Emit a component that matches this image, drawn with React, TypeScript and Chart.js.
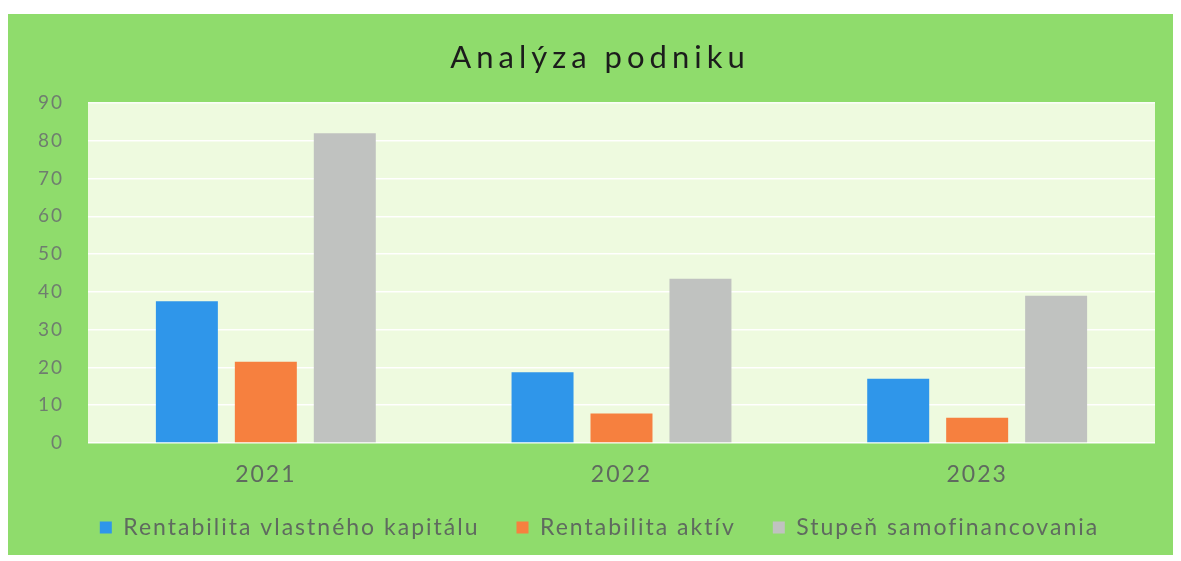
import React, { useEffect, useRef } from "react";
import { Chart, registerables } from "chart.js";

Chart.register(...registerables);

const chartTitle = "Analýza podniku";
const categories = ["2021", "2022", "2023"];
const seriesNames = [
  "Rentabilita vlastného kapitálu",
  "Rentabilita aktív",
  "Stupeň samofinancovania",
];
const roeValues = [37.5, 18.7, 17];
const roaValues = [21.5, 7.8, 6.7];
const selfFinValues = [82, 43.5, 39];
const seriesColors = ["#2f96ea", "#f6803f", "#c0c2c0"];
const yTicks = { min: 0, max: 90, step: 10 };

const FONT = "Lato, 'Open Sans', sans-serif";
const SPACING = "2px";
const LEGEND_BOX_HEIGHT = 40;
const LEGEND_DRAW_SHIFT = -10;
const LEGEND_X_SHIFT = 8;

const spacingPlugin = {
  id: "spacingPlugin",
  beforeUpdate(chart: any) {
    chart.ctx.letterSpacing = SPACING;
  },
  beforeLayout(chart: any) {
    chart.ctx.letterSpacing = SPACING;
    const lg = chart.legend;
    if (lg && !lg.__patched) {
      lg.__patched = true;
      const origFit = lg.fit.bind(lg);
      lg.fit = function () {
        origFit();
        this.__fullHeight = this.height;
        this.height = LEGEND_BOX_HEIGHT;
      };
      const origDraw = lg.draw.bind(lg);
      lg.draw = function () {
        const t = this.top;
        const b = this.bottom;
        const l = this.left;
        const r = this.right;
        this.top = t + LEGEND_DRAW_SHIFT;
        this.bottom = this.top + (this.__fullHeight || b - t);
        this.left = l + LEGEND_X_SHIFT;
        this.right = r + LEGEND_X_SHIFT;
        origDraw();
        this.top = t;
        this.bottom = b;
        this.left = l;
        this.right = r;
      };
    }
  },
  beforeDraw(chart: any) {
    const { ctx, chartArea, width, height } = chart;
    ctx.letterSpacing = SPACING;
    ctx.save();
    ctx.fillStyle = "#8fdc6c";
    ctx.fillRect(0, 0, width, height);
    ctx.fillStyle = "#eefadf";
    ctx.fillRect(
      chartArea.left,
      chartArea.top,
      chartArea.right - chartArea.left,
      chartArea.bottom - chartArea.top
    );
    ctx.restore();
  },
  afterDraw(chart: any) {
    const { ctx } = chart;
    ctx.save();
    ctx.letterSpacing = "5px";
    ctx.font = `normal 31px ${FONT}`;
    ctx.fillStyle = "#1c1c1c";
    ctx.textAlign = "center";
    ctx.textBaseline = "middle";
    ctx.fillText(chartTitle, 592, 44);
    ctx.restore();
  },
};

export default function App() {
  const ref = useRef<HTMLCanvasElement | null>(null);

  useEffect(() => {
    if (!ref.current) return;
    const chart = new Chart(ref.current, {
      type: "bar",
      data: {
        labels: categories,
        datasets: [
          { label: seriesNames[0], data: roeValues, backgroundColor: seriesColors[0] },
          { label: seriesNames[1], data: roaValues, backgroundColor: seriesColors[1] },
          { label: seriesNames[2], data: selfFinValues, backgroundColor: seriesColors[2] },
        ],
      },
      options: {
        responsive: false,
        animation: false,
        datasets: {
          bar: { categoryPercentage: 0.666, barPercentage: 0.785 },
        },
        layout: { padding: { left: 20, right: 26, top: 89, bottom: 26 } },
        plugins: {
          tooltip: { enabled: false },
          title: { display: false },
          legend: {
            position: "bottom",
            labels: {
              color: "#5f6a5f",
              font: { family: FONT, size: 23 },
              boxWidth: 12,
              boxHeight: 12,
              padding: 37,
            },
          },
        },
        scales: {
          x: {
            grid: { display: false, drawTicks: false },
            border: { display: false },
            ticks: {
              color: "#5f6a5f",
              font: { family: FONT, size: 23 },
              padding: 18,
            },
            afterFit(scale: any) {
              scale.height = 46;
            },
          },
          y: {
            min: yTicks.min,
            max: yTicks.max,
            grid: { color: "rgba(255,255,255,0.95)", lineWidth: 1.5, drawTicks: false },
            border: { display: false },
            ticks: {
              stepSize: yTicks.step,
              color: "#6f7d6f",
              font: { family: FONT, size: 19 },
              padding: 24,
            },
            afterFit(scale: any) {
              scale.width = 60;
            },
          },
        },
      },
      plugins: [spacingPlugin],
    });
    return () => chart.destroy();
  }, []);

  return (
    <div style={{ marginTop: 6, width: 1173, height: 541 }}>
      <canvas ref={ref} width={1173} height={541} style={{ display: "block" }} />
    </div>
  );
}
